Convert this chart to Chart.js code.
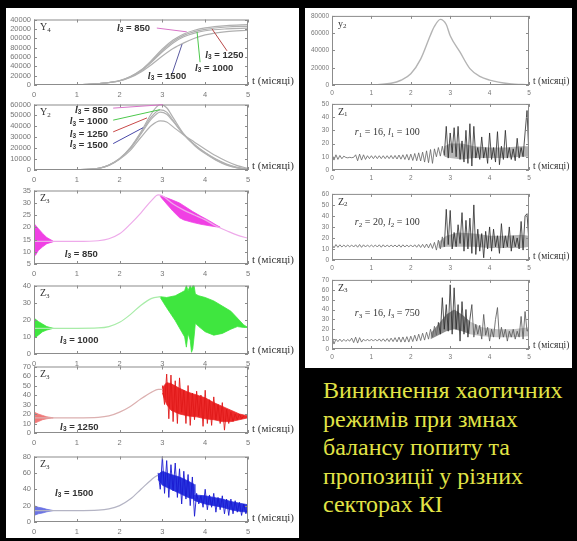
<!DOCTYPE html>
<html>
<head>
<meta charset="utf-8">
<title>Z3 chaos</title>
<script src="https://cdn.jsdelivr.net/npm/chart.js@4.4.1/dist/chart.umd.min.js"></script>
<style>
  body{ margin:0; background:#000; width:577px; height:541px; position:relative; overflow:hidden; }
  .sheet{ position:absolute; background:#fff; }
  canvas{ position:absolute; }
  .caption{ position:absolute; left:323px; top:376px; color:#e2e446;
            font-family:'Liberation Serif','Times New Roman',serif; font-size:24px; line-height:28.5px; white-space:nowrap; }
</style>
</head>
<body>
<div class="sheet" style="left:6px;top:8px;width:293px;height:530px"></div>
<div class="sheet" style="left:305px;top:8px;width:267px;height:360px"></div>
<div class="caption">Виникнення хаотичних<br>режимів при змнах<br>балансу попиту та<br>пропозиції у різних<br>секторах КІ</div>
<script>

// ---- Y4 (left, panel 1) for l3 = 850, 1000, 1250, 1500
const y4T    = [0, 1, 1.5, 2, 2.25, 2.5, 2.75, 3, 3.25, 3.5, 3.75, 4, 4.5, 5];
const y4_850  = [0, 500, 3000, 9500, 18000, 32000, 53000, 77000, 96000, 109000, 117000, 122000, 127000, 129000];
const y4_1000 = [0, 500, 3000, 9000, 17500, 31000, 51000, 74000, 93000, 106000, 114000, 119000, 124000, 125500];
const y4_1250 = [0, 500, 3000, 9000, 17000, 30000, 49000, 71000, 90000, 103000, 111000, 116000, 120000, 121500];
const y4_1500 = [0, 500, 2800, 8500, 16000, 28000, 44000, 62000, 78000, 90000, 100000, 107000, 114000, 117000];

// ---- Y2 (left, panel 2)
const y2T     = [0, 1, 1.5, 1.75, 2, 2.25, 2.5, 2.75, 2.95, 3.1, 3.25, 3.5, 3.75, 4, 4.25, 4.5, 4.75, 5];
const y2_850  = [0, 300, 1500, 4500, 10500, 20500, 35000, 52000, 60000, 57000, 48000, 33000, 22500, 15000, 9000, 4500, 1800, 500];
const y2_1000 = [0, 300, 1500, 4500, 10300, 20000, 34000, 49000, 55000, 53000, 45500, 32500, 23000, 15500, 9500, 5000, 2000, 600];
const y2_1250 = [0, 300, 1500, 4400, 10200, 19500, 33000, 47000, 53000, 51000, 44500, 32500, 23500, 16000, 10000, 5500, 2500, 800];
const y2_1500 = [0, 300, 1400, 4200, 9800, 18000, 30000, 41000, 45000, 44000, 39500, 32000, 25500, 19000, 13000, 8000, 4000, 1500];

// ---- Z3 start-up oscillation (common times)
const initT = [0, 0.05, 0.1, 0.2, 0.3, 0.45];

// l3 = 850 (magenta)
const z850LineT = [0, 0.45, 1, 1.5, 1.75, 2, 2.25, 2.5, 2.75, 2.9, 3, 3.25, 3.5, 3.75, 4, 4.25, 4.5, 4.75, 5];
const z850Line  = [14.2, 14.2, 14.2, 14.5, 15.3, 17.3, 21.3, 25.9, 31, 33.2, 32.8, 29.5, 27, 25, 23, 20.5, 18.6, 16.8, 15.5];
const z850InitUp = [21.5, 20.5, 19.5, 17.5, 15.8, 14.3];
const z850InitLo = [8, 9, 10.5, 12, 13.3, 14.1];
const z850BandT  = [2.95, 3.1, 3.25, 3.4, 3.5, 3.7, 3.9, 4.1, 4.25, 4.35];
const z850Up     = [33, 32, 31, 29.9, 28.8, 26.5, 24.5, 22.6, 21, 20];
const z850Lo     = [32.6, 29.5, 26.5, 23.9, 23, 22, 21.2, 20.6, 20.2, 20];

// l3 = 1000 (green)
const z1000LineT = [0, 0.45, 1, 1.5, 1.75, 2, 2.25, 2.5, 2.75, 2.95];
const z1000Line  = [15, 15, 15, 15.2, 16, 18.5, 23, 28.5, 32.5, 33.5];
const z1000InitUp = [21, 20, 19, 17.5, 16, 15];
const z1000InitLo = [9, 10, 11, 13, 14, 15];
const z1000BandT = [2.95, 3.1, 3.3, 3.45, 3.52, 3.56, 3.6, 3.65, 3.68, 3.71, 3.74, 3.77, 3.85, 4.0, 4.2, 4.4, 4.6, 4.75, 4.9, 5.0];
const z1000Up    = [33.5, 33, 34, 36, 37, 40, 37, 40, 38, 40, 40, 35, 34, 33, 31, 28, 25, 21, 17, 15.5];
const z1000Lo    = [33, 27, 19.5, 13, 10, 4, 12, 8, 1, 3, 10, 18, 16, 13, 11, 12, 14.5, 16, 15.5, 15.5];

// l3 = 1250 (red)
const z1250LineT = [0, 0.45, 1, 1.5, 1.75, 2, 2.25, 2.5, 2.75, 2.9, 3.0];
const z1250Line  = [16, 16, 16, 16.5, 18, 22, 28, 36, 43, 46, 46];
const z1250InitUp = [22, 21, 20, 18.5, 17, 16];
const z1250InitLo = [10, 11, 12, 14, 15, 16];
const z1250BandT = [3.0, 3.1, 3.2, 3.4, 3.6, 3.8, 4.0, 4.2, 4.4, 4.6, 4.8, 5.0];
const z1250Up    = [48, 53, 52, 47, 43, 40, 37, 32, 28, 24, 20, 18];
const z1250Lo    = [42, 30, 24, 20, 18, 17, 15, 14, 12, 12, 14, 16];
const z1250Spikes = [50, 30, 62, 15, 61, 12, 55, 10, 58, 22, 45, 10, 50, 8, 42, 14, 44, 18, 40, 7,
                     45, 10, 35, 8, 38, 14, 30, 10, 32, 3, 25, 10, 22, 12, 20, 14, 20, 15, 18]; // t = 3.0 .. 4.9

// l3 = 1500 (blue)
const z1500LineT = [0, 0.45, 1, 1.5, 1.75, 2, 2.25, 2.5, 2.75, 2.85, 2.9];
const z1500Line  = [14, 14, 14, 14.5, 16, 20, 28, 40, 52, 56, 57];
const z1500InitUp = [20, 19, 18, 17, 15.5, 14];
const z1500InitLo = [8, 9, 10, 11, 12.5, 14];
const z1500BandT = [2.9, 3.0, 3.2, 3.4, 3.6, 3.74, 3.76, 4.0, 4.2, 4.4, 4.6, 4.8, 5.0];
const z1500Up    = [58, 62, 58, 55, 50, 46, 33, 32, 30, 28, 25, 23, 21];
const z1500Lo    = [52, 45, 40, 35, 30, 28, 26, 22, 20, 18, 15, 13, 12];
const z1500Spikes = [60, 40, 80, 35, 75, 30, 70, 38, 72, 30, 65, 22, 62, 28, 58, 20, 55, 7, 35, 22,
                     32, 18, 40, 15, 33, 18, 35, 12, 30, 15, 32, 10, 28, 8, 28, 10, 26, 12, 24, 8,
                     22, 10, 18]; // t = 2.9 .. 5.0

// ---- right column
const y2RT = [0, 1, 1.5, 1.75, 2, 2.25, 2.5, 2.6, 2.75, 2.9, 3, 3.25, 3.5, 3.75, 4, 4.5, 5];
const y2R  = [0, 200, 2000, 5500, 13000, 30000, 58000, 68000, 76000, 70000, 57000, 38000, 19000, 10000, 5700, 1500, 300];

// sampled every 0.05 month, t = 0 .. 5
const z1 = [12, 7.5, 11.5, 8, 11, 8.5, 10.5, 9.5, 9.2, 9.6, 9.3, 9.6,
  11.5, 7, 12, 7.5, 11.5, 8,
  10.8, 8.6, 10.8, 8.6, 10.8, 8.6, 10.8, 8.6, 10.8, 8.6, 10.8, 8.6, 11, 8.5, 11, 8.3, 11.3, 8.2, 11.5, 8, 11.8,
  7.5, 12, 7.2, 12.5, 7, 13, 6.8, 13.5,
  6, 14.5, 5.5, 15.5, 5, 16,
  10, 17, 10.5, 18, 11,
  33, 9, 28, 13, 32, 10, 33, 8, 22, 6,
  30, 5, 35, 3, 33, 9, 17, 8, 25, 9, 17, 5,
  28, 8, 17, 6, 29, 4, 18, 8, 30, 9,
  17, 8, 16, 7, 24, 9, 17, 10, 28, 45, 9];
const z2 = [14, 11, 14, 11.5, 13.8, 11.8, 13.5, 12, 13.5, 12,
  13.6, 11.8, 13.8, 11.6, 14, 11.5, 13.8, 11.8, 13.6, 12,
  13.5, 12, 13.6, 11.8, 13.8, 11.6, 13.8, 11.8, 13.6, 12,
  13.5, 12, 13.6, 11.8, 13.8, 11.6, 13.8, 11.8, 13.6, 12,
  13.6, 11.8, 13.8, 11.6, 14, 11.4, 14.2, 11.2, 14.5, 11,
  15, 10.5,
  16, 9, 18, 10, 21, 12,
  46, 14, 45, 10, 25, 12, 32, 15, 43, 8,
  36, 10, 38, 6, 50, 5, 28, 8, 24, 2, 26, 10,
  30, 8, 28, 12, 22, 6, 33, 11, 22, 12,
  30, 8, 22, 12, 20, 10, 35, 9, 40, 42, 15];
const z3 = [13, 5,
  10, 7.5, 10, 7.5, 9.8, 7.8, 9.6, 8,
  11, 6.5, 12, 6, 11.5, 7,
  10, 8, 10, 8, 10, 8, 10, 8, 10.2, 7.8, 10.3, 7.7, 10.5, 7.5,
  11, 7.5, 11.5, 7.2, 12, 7, 12.2, 7, 12.5, 7,
  13, 7.5, 14, 8, 15, 8.5, 16, 9, 17, 10,
  20, 12, 23, 14, 27, 15,
  52, 20, 45, 18, 65, 15, 62, 20, 45, 8, 48, 15,
  40, 12, 30, 45, 12, 25, 15, 24, 10, 35, 14, 22,
  8, 20, 12, 30, 42, 10, 22, 12, 20, 8,
  18, 12, 20, 10, 18, 12, 33, 10, 38, 18, 20];

// dense cores of the chaotic stretches (right column)
const z1CoreT = [2.85, 3.0, 3.3, 3.6, 4.0, 4.4, 4.8, 5.0];
const z1CoreUp = [18, 20, 20, 18, 17, 17, 18, 18];
const z1CoreLo = [10, 9, 8, 9, 9, 9, 10, 10];
const z2CoreT = [2.7, 2.9, 3.2, 3.6, 4.0, 4.4, 4.8, 5.0];
const z2CoreUp = [16, 22, 25, 24, 22, 22, 23, 22];
const z2CoreLo = [11, 12, 12, 12, 11, 11, 11, 12];
const z3CoreT = [2.5, 2.7, 2.9, 3.1, 3.3, 3.5];
const z3CoreUp = [16, 25, 35, 40, 35, 28];
const z3CoreLo = [10, 14, 18, 20, 18, 15];
const z3TailT = [3.5, 3.8, 4.2, 4.6, 5.0];
const z3TailUp = [28, 22, 20, 20, 22];
const z3TailLo = [15, 13, 12, 12, 13];

// ---------------------------------------------------------------
const SANS = '"Liberation Sans", Arial, sans-serif';
const SERIF = '"Liberation Serif", "Times New Roman", serif';

function pts(xs, ys) { return ys.map((v, i) => ({ x: xs[i], y: v })); }
function steps(ys, t0, dt) { return ys.map((v, i) => ({ x: t0 + i * dt, y: v })); }

function curve(data, color, w) {
  return { data: data, borderColor: color, borderWidth: w || 1, fill: false, cubicInterpolationMode: 'monotone' };
}
function band(xs, up, lo, color, edge) {
  const line = edge === undefined ? color : edge;
  return [
    { data: pts(xs, up), borderColor: line, borderWidth: 0.8, fill: false, tension: 0 },
    { data: pts(xs, lo), borderColor: line, borderWidth: 0.8, backgroundColor: color, fill: '-1', tension: 0 }
  ];
}
function zig(data, color, w) {
  return { data: data, borderColor: color, borderWidth: w || 0.8, fill: false, tension: 0 };
}

function lab3(n) {
  return [
    { s: 'l', f: 'italic bold 10px ' + SERIF },
    { s: '3', f: 'bold 6.5px ' + SANS, dy: 2 },
    { s: ' = ' + n, f: 'bold 9.5px ' + SANS }
  ];
}
function corner(letter, sub) {
  return [{ s: letter, f: '10px ' + SERIF }, { s: sub, f: '7px ' + SERIF, dy: 2.5 }];
}
function rl(r, rv, lv) {
  return [
    { s: 'r', f: 'italic 10px ' + SERIF }, { s: r, f: '7px ' + SERIF, dy: 2.5 },
    { s: ' = ' + rv + ', ', f: '10px ' + SERIF },
    { s: 'l', f: 'italic 10px ' + SERIF }, { s: r, f: '7px ' + SERIF, dy: 2.5 },
    { s: ' = ' + lv, f: '10px ' + SERIF }
  ];
}

function rich(ctx, x, y, parts, align) {
  let w = 0;
  parts.forEach(p => { ctx.font = p.f; w += ctx.measureText(p.s).width; });
  if (align === 'right') x -= w;
  parts.forEach(p => { ctx.font = p.f; ctx.fillText(p.s, x, y + (p.dy || 0)); x += ctx.measureText(p.s).width; });
}

function decor(cfg) {
  return {
    id: 'decor',
    afterDraw(chart) {
      const ctx = chart.ctx, a = chart.chartArea, xs = chart.scales.x, ys = chart.scales.y;
      ctx.save();
      ctx.strokeStyle = '#8c8c8c';
      ctx.lineWidth = 1;
      ctx.strokeRect(a.left + 0.5, a.top + 0.5, a.right - a.left - 1, a.bottom - a.top - 1);
      ctx.beginPath();
      xs.ticks.forEach(t => {
        const p = Math.round(xs.getPixelForValue(t.value)) + 0.5;
        ctx.moveTo(p, a.bottom); ctx.lineTo(p, a.bottom - 3);
        ctx.moveTo(p, a.top); ctx.lineTo(p, a.top + 3);
      });
      ys.ticks.forEach(t => {
        const p = Math.round(ys.getPixelForValue(t.value)) + 0.5;
        ctx.moveTo(a.left, p); ctx.lineTo(a.left + 3, p);
        ctx.moveTo(a.right, p); ctx.lineTo(a.right - 3, p);
      });
      ctx.stroke();

      (cfg.leaders || []).forEach(l => {
        ctx.strokeStyle = l.c;
        ctx.lineWidth = 1;
        ctx.beginPath();
        ctx.moveTo(xs.getPixelForValue(l.x0), ys.getPixelForValue(l.y0));
        ctx.lineTo(xs.getPixelForValue(l.x1), ys.getPixelForValue(l.y1));
        ctx.stroke();
      });

      ctx.fillStyle = '#333';
      ctx.textBaseline = 'middle';
      rich(ctx, a.left + 6, a.top + 8, cfg.corner);
      (cfg.notes || []).forEach(n => {
        rich(ctx, xs.getPixelForValue(n.x), ys.getPixelForValue(n.y), n.parts, n.align);
      });
      ctx.font = cfg.tFont;
      ctx.fillText('t (місяці)', a.right + 4, a.bottom - 4);
      ctx.restore();
    }
  };
}

function panel(cfg) {
  const yW = 34, padTop = 6, xH = 18, padRight = 52;
  const cv = document.createElement('canvas');
  cv.width = yW + (cfg.r - cfg.l) + padRight;
  cv.height = padTop + (cfg.b - cfg.t) + xH;
  cv.style.left = (cfg.l - yW) + 'px';
  cv.style.top = (cfg.t - padTop) + 'px';
  document.body.appendChild(cv);
  const tickFont = { family: SANS, size: cfg.tickSize };
  new Chart(cv, {
    type: 'line',
    data: { datasets: cfg.datasets },
    options: {
      responsive: false,
      animation: false,
      devicePixelRatio: 1,
      layout: { padding: { left: 0, right: padRight, top: padTop, bottom: 0 }, autoPadding: false },
      plugins: { legend: { display: false }, tooltip: { enabled: false } },
      elements: { point: { radius: 0 } },
      scales: {
        x: {
          type: 'linear', min: 0, max: 5,
          grid: { display: false, drawTicks: false }, border: { display: false },
          ticks: { stepSize: 1, font: tickFont, color: '#777', padding: cfg.xPad, maxRotation: 0, autoSkip: false },
          afterFit: s => { s.height = xH; }
        },
        y: {
          min: cfg.ymin, max: cfg.ymax,
          grid: { display: false, drawTicks: false }, border: { display: false },
          ticks: { stepSize: cfg.ystep, font: tickFont, color: '#777', padding: 3, autoSkip: false,
                   callback: cfg.yLabel || (v => v) },
          afterFit: s => { s.width = yW; }
        }
      }
    },
    plugins: [decor(cfg)]
  });
}

const GRAY = '#b0b0b0';
const L = { l: 34, r: 248, tickSize: 7.5, xPad: 5, tFont: '11px ' + SERIF };
const R = { l: 332, r: 529, tickSize: 6.5, xPad: 4, tFont: '9.5px ' + SERIF };

// panel 1: Y4
panel(Object.assign({}, L, {
  t: 18, b: 85, ymin: 0, ymax: 140000, ystep: 20000,
  yLabel: v => String(v).slice(-5),
  datasets: [
    curve(pts(y4T, y4_850), GRAY, 1.2), curve(pts(y4T, y4_1000), GRAY, 1.2),
    curve(pts(y4T, y4_1250), GRAY, 1.2), curve(pts(y4T, y4_1500), GRAY, 1.2)
  ],
  corner: corner('Y', '4'),
  notes: [
    { x: 1.94, y: 121700, parts: lab3(850) },
    { x: 4.0, y: 62900, parts: lab3(1250) },
    { x: 3.76, y: 36500, parts: lab3(1000) },
    { x: 2.66, y: 18260, parts: lab3(1500) }
  ],
  leaders: [
    { x0: 2.87, y0: 121700, x1: 3.57, y1: 113600, c: '#d874c8' },
    { x0: 3.88, y0: 48700, x1: 3.81, y1: 113600, c: '#4cc84c' },
    { x0: 4.51, y0: 73000, x1: 4.16, y1: 119700, c: '#b84848' },
    { x0: 3.22, y0: 22300, x1: 3.46, y1: 87250, c: '#5a5aa0' }
  ]
}));

// panel 2: Y2
panel(Object.assign({}, L, {
  t: 103, b: 170, ymin: 0, ymax: 60000, ystep: 10000,
  datasets: [
    curve(pts(y2T, y2_850), GRAY, 1.2), curve(pts(y2T, y2_1000), GRAY, 1.2),
    curve(pts(y2T, y2_1250), GRAY, 1.2), curve(pts(y2T, y2_1500), GRAY, 1.2)
  ],
  corner: corner('Y', '2'),
  notes: [
    { x: 1.73, y: 54360, parts: lab3(850), align: 'right' },
    { x: 1.73, y: 44150, parts: lab3(1000), align: 'right' },
    { x: 1.73, y: 32870, parts: lab3(1250), align: 'right' },
    { x: 1.73, y: 23010, parts: lab3(1500), align: 'right' }
  ],
  leaders: [
    { x0: 1.85, y0: 56690, x1: 3.01, y1: 59800, c: '#d874c8' },
    { x0: 1.85, y0: 45670, x1: 2.94, y1: 55250, c: '#4cc84c' },
    { x0: 1.85, y0: 34925, x1: 2.64, y1: 47730, c: '#c84848' },
    { x0: 1.85, y0: 24180, x1: 2.55, y1: 38780, c: '#4848a8' }
  ]
}));

// panel 3: Z3, l3 = 850
panel(Object.assign({}, L, {
  t: 189, b: 264, ymin: 5, ymax: 35, ystep: 5,
  datasets: [
    curve(pts(z850LineT, z850Line), '#eeaaea', 1.2),
    ...band(initT, z850InitUp, z850InitLo, '#f040e4'),
    ...band(z850BandT, z850Up, z850Lo, '#f040e4')
  ],
  corner: corner('Z', '3'),
  notes: [{ x: 0.72, y: 9, parts: lab3(850) }]
}));

// panel 4: Z3, l3 = 1000
panel(Object.assign({}, L, {
  t: 284, b: 354, ymin: 0, ymax: 40, ystep: 10,
  datasets: [
    curve(pts(z1000LineT, z1000Line), '#a8eca8', 1.2),
    ...band(initT, z1000InitUp, z1000InitLo, '#3fe63f'),
    ...band(z1000BandT, z1000Up, z1000Lo, '#3fe63f')
  ],
  corner: corner('Z', '3'),
  notes: [{ x: 0.61, y: 8, parts: lab3(1000) }]
}));

// panel 5: Z3, l3 = 1250
panel(Object.assign({}, L, {
  t: 365, b: 433, ymin: 0, ymax: 70, ystep: 10,
  datasets: [
    curve(pts(z1250LineT, z1250Line), '#dcb0b0', 1.2),
    ...band(initT, z1250InitUp, z1250InitLo, '#f07878'),
    zig(steps(z1250Spikes, 3.0, 0.05), '#e01818', 0.9),
    ...band(z1250BandT, z1250Up, z1250Lo, '#ec2a2a')
  ],
  corner: corner('Z', '3'),
  notes: [{ x: 0.61, y: 6, parts: lab3(1250) }]
}));

// panel 6: Z3, l3 = 1500
panel(Object.assign({}, L, {
  t: 455, b: 522, ymin: 0, ymax: 80, ystep: 20,
  datasets: [
    curve(pts(z1500LineT, z1500Line), '#b4b4c4', 1.2),
    ...band(initT, z1500InitUp, z1500InitLo, '#6c74e4'),
    zig(steps(z1500Spikes, 2.9, 0.05), '#1a1ad0', 0.9),
    ...band(z1500BandT, z1500Up, z1500Lo, '#2a36e0')
  ],
  corner: corner('Z', '3'),
  notes: [{ x: 0.49, y: 35, parts: lab3(1500) }]
}));

// right column
panel(Object.assign({}, R, {
  t: 15, b: 85, ymin: 0, ymax: 80000, ystep: 20000,
  datasets: [curve(pts(y2RT, y2R), '#b4b4b4', 1.4)],
  corner: corner('y', '2')
}));

function grayZig(data, cut1, cut2) {
  return {
    data: data, borderColor: '#666', borderWidth: 0.8, fill: false, tension: 0,
    segment: {
      borderColor: c => {
        const t = c.p0.parsed.x;
        if (t < cut1) return '#636363';
        if (t < cut2) return '#2a2a2a';
        return '#555';
      }
    }
  };
}

const CORE = 'rgba(60,60,60,0.38)';

panel(Object.assign({}, R, {
  t: 103, b: 170, ymin: 0, ymax: 50, ystep: 10,
  datasets: [
    grayZig(steps(z1, 0, 0.05), 2.85, 5.1),
    ...band(z1CoreT, z1CoreUp, z1CoreLo, CORE, 'rgba(0,0,0,0)')
  ],
  corner: corner('Z', '1'),
  notes: [{ x: 0.58, y: 28.6, parts: rl('1', 16, 100) }]
}));

panel(Object.assign({}, R, {
  t: 193, b: 260, ymin: 0, ymax: 60, ystep: 10,
  datasets: [
    grayZig(steps(z2, 0, 0.05), 2.85, 5.1),
    ...band(z2CoreT, z2CoreUp, z2CoreLo, CORE, 'rgba(0,0,0,0)')
  ],
  corner: corner('Z', '2'),
  notes: [{ x: 0.58, y: 34.3, parts: rl('2', 20, 100) }]
}));

panel(Object.assign({}, R, {
  t: 279, b: 349, ymin: 0, ymax: 70, ystep: 10,
  datasets: [
    grayZig(steps(z3, 0, 0.05), 2.7, 3.55),
    ...band(z3CoreT, z3CoreUp, z3CoreLo, 'rgba(30,30,30,0.5)', 'rgba(0,0,0,0)'),
    ...band(z3TailT, z3TailUp, z3TailLo, 'rgba(90,90,90,0.35)', 'rgba(0,0,0,0)')
  ],
  corner: corner('Z', '3'),
  notes: [{ x: 0.58, y: 35.7, parts: rl('3', 16, 750) }]
}));

</script>
</body>
</html>
